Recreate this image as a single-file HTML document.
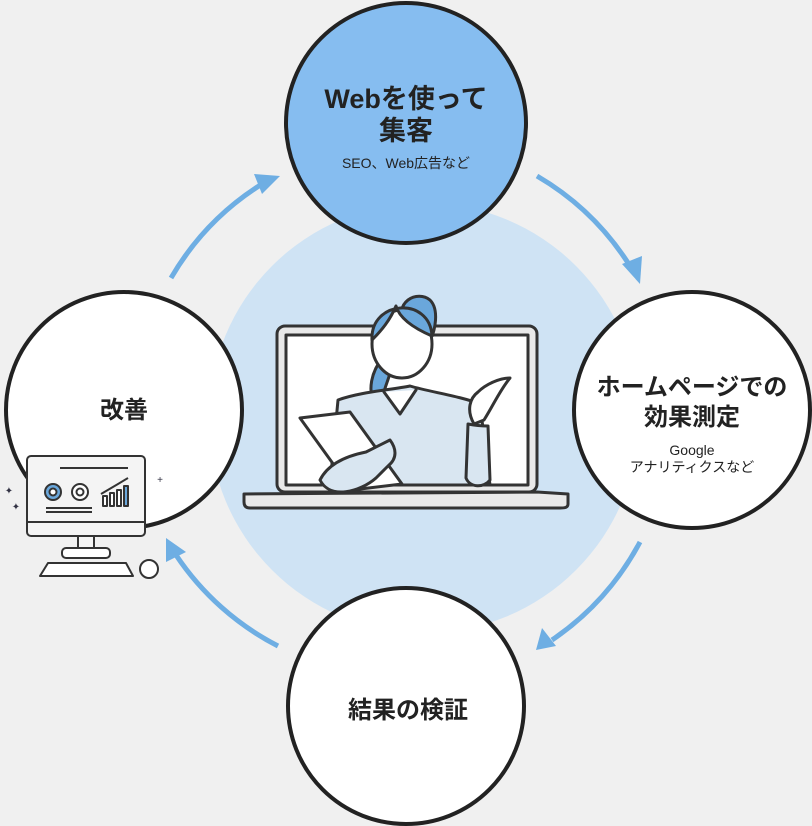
<!DOCTYPE html>
<html><head><meta charset="utf-8"><style>
html,body{margin:0;padding:0;background:#f0f0f0;}
svg{display:block}
text{font-family:"Liberation Sans","Noto Sans CJK JP",sans-serif;font-weight:bold;fill:#222;text-anchor:middle}
</style></head><body>
<svg width="812" height="826" viewBox="0 0 812 826" xmlns="http://www.w3.org/2000/svg">
<rect width="812" height="826" fill="#f0f0f0"/>
<circle cx="424" cy="418" r="215" fill="#cfe3f4"/>
<!-- arrows -->
<g fill="none" stroke="#6eaee3" stroke-width="5">
<path d="M171 278 A272 272 0 0 1 262 184"/>
<path d="M537 176 A272 272 0 0 1 630 266"/>
<path d="M640 542 A272 272 0 0 1 552 640"/>
<path d="M278 646 A272 272 0 0 1 176 555"/>
</g>
<g fill="#6eaee3">
<polygon points="280,176 254,174 262,194"/>
<polygon points="640,284 622,264 642,256"/>
<polygon points="536,650 542,628 556,646"/>
<polygon points="166,538 186,552 166,562"/>
</g>
<!-- laptop -->
<g stroke="#333" stroke-width="3" stroke-linejoin="round" stroke-linecap="round">
<rect x="277" y="326" width="260" height="166" rx="8" fill="#e9e9e9"/>
<rect x="286" y="335" width="242" height="150" fill="#fff"/>
<path d="M404 330 C392 300 418 290 430 300 C440 310 434 332 432 336 Z" fill="#6aa7db"/>
<path d="M384 356 C372 370 366 390 376 408 L384 412 C378 392 392 380 392 360 Z" fill="#6aa7db"/>
<ellipse cx="402" cy="344" rx="30" ry="34" fill="#fff"/>
<path d="M372 340 C370 300 430 296 432 336 C418 330 400 320 396 306 C390 320 382 330 372 340Z" fill="#6aa7db"/>
<path d="M338 400 C360 392 390 390 410 386 C430 392 460 396 480 404 L490 485 L330 485 Z" fill="#d9e6f1"/>
<path d="M384 392 L400 414 L416 390" fill="#fff"/>
<path d="M468 424 C478 426 488 426 488 426 L490 480 C484 488 470 488 466 478 Z" fill="#d9e6f1"/>
<path d="M474 424 C466 410 470 398 478 392 C486 384 500 378 510 378 C500 390 494 404 484 420 Z" fill="#fff"/>
<path d="M300 418 L350 412 L402 484 L352 490 Z" fill="#fff"/>
<path d="M320 480 C330 460 356 454 366 452 L390 440 C396 448 398 458 388 466 L376 478 C360 492 330 500 320 480 Z" fill="#d9e6f1"/>
<path d="M244 494 L537 492 L568 494 L568 504 C568 508 564 508 560 508 L250 508 C246 508 244 506 244 502 Z" fill="#e9e9e9"/>
</g>
<!-- circles -->
<g stroke="#222" stroke-width="4">
<circle cx="406" cy="123" r="120" fill="#86bdf0"/>
<circle cx="692" cy="410" r="118" fill="#fff"/>
<circle cx="406" cy="706" r="118" fill="#fff"/>
<circle cx="124" cy="410" r="118" fill="#fff"/>
</g>
<!-- desktop -->
<g stroke="#333" stroke-width="2" stroke-linejoin="round">
<rect x="27" y="456" width="118" height="80" rx="4" fill="#f4f4f4"/>
<line x1="28" y1="522" x2="144" y2="522"/>
<rect x="78" y="536" width="16" height="14" fill="#f4f4f4"/>
<rect x="62" y="548" width="48" height="10" rx="4" fill="#fff"/>
<path d="M48 563 L126 563 L133 576 L40 576 Z" fill="#fff"/>
<rect x="140" y="560" width="18" height="18" rx="9" fill="#fff"/>
<circle cx="53" cy="492" r="8" fill="#6aa7db"/><circle cx="53" cy="492" r="3.5" fill="#fff"/>
<circle cx="80" cy="492" r="8" fill="#fff"/><circle cx="80" cy="492" r="3.5" fill="#fff"/>
<line x1="46" y1="508" x2="92" y2="508"/><line x1="46" y1="512" x2="92" y2="512"/>
<line x1="60" y1="468" x2="128" y2="468"/>
<rect x="103" y="496" width="4" height="10" fill="#fff"/><rect x="110" y="493" width="4" height="13" fill="#fff"/><rect x="117" y="490" width="4" height="16" fill="#fff"/><rect x="124" y="486" width="4" height="20" fill="#6aa7db"/>
<path d="M101 494 L118 484 L128 478" fill="none"/>
</g>
<g fill="#334" font-size="10"><text x="9" y="494" style="font-weight:normal;fill:#334">✦</text><text x="16" y="510" style="font-weight:normal;fill:#334">✦</text><text x="160" y="483" style="font-weight:normal;fill:#334">+</text></g>
<!-- labels -->
<text x="406" y="108" font-size="27">Webを使って</text>
<text x="406" y="140" font-size="27">集客</text>
<text x="406" y="168" font-size="14" style="font-weight:normal;fill:#222">SEO、Web広告など</text>
<text x="692" y="395" font-size="24">ホームページでの</text>
<text x="692" y="425" font-size="24">効果測定</text>
<text x="692" y="455" font-size="14" style="font-weight:normal;fill:#222">Google</text>
<text x="692" y="472" font-size="14" style="font-weight:normal;fill:#222">アナリティクスなど</text>
<text x="408" y="718" font-size="24">結果の検証</text>
<text x="124" y="418" font-size="24">改善</text>
</svg>
</body></html>
